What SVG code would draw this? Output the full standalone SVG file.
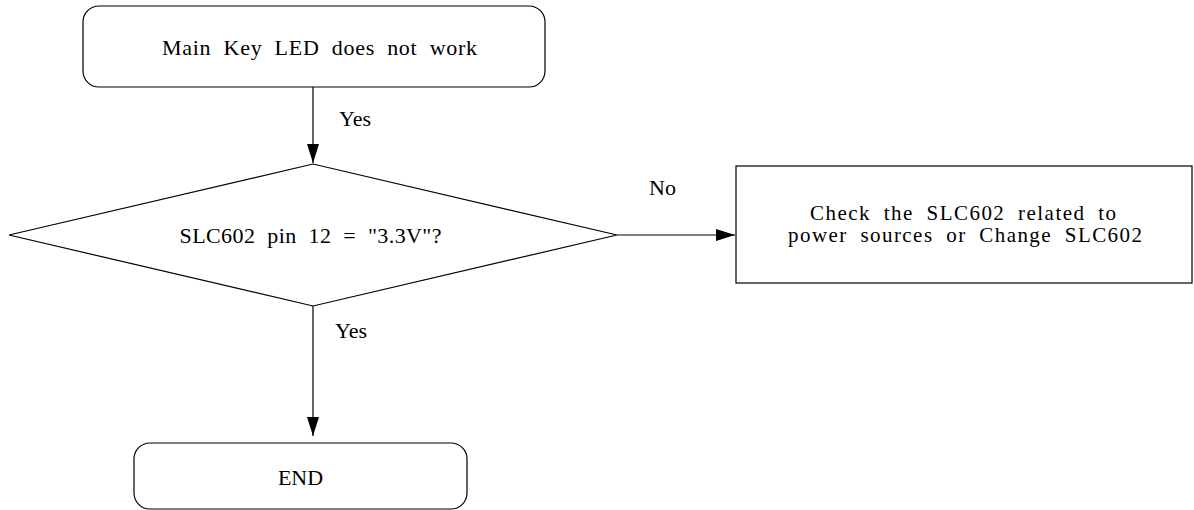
<svg xmlns="http://www.w3.org/2000/svg" width="1194" height="510" viewBox="0 0 1194 510">
<style>
  .shape { fill: #ffffff; stroke: #000000; stroke-width: 1.2; }
  .line { stroke: #000000; stroke-width: 1.2; fill: none; }
  text { font-family: "Liberation Serif", "Times New Roman", serif; font-size: 22px; fill: #000000; }
  .c { text-anchor: middle; word-spacing: 6px; }
  .s { font-size: 21px; }
</style>
<defs>
  <marker id="arrow" viewBox="0 0 19 12" refX="19" refY="6" markerWidth="19" markerHeight="12" markerUnits="userSpaceOnUse" orient="auto">
    <path d="M0,0 L19,6 L0,12 Z" fill="#000000"/>
  </marker>
</defs>
<rect width="1194" height="510" fill="#ffffff"/>

<g id="connectors">
  <line class="line" x1="313" y1="87" x2="313" y2="163" marker-end="url(#arrow)"/>
  <line class="line" x1="617" y1="235" x2="735" y2="235" marker-end="url(#arrow)"/>
  <line class="line" x1="313" y1="306" x2="313" y2="436" marker-end="url(#arrow)"/>
  <text x="339" y="126">Yes</text>
  <text x="649" y="195">No</text>
  <text x="335" y="338">Yes</text>
</g>

<g id="start">
  <rect class="shape" x="83" y="6" width="462" height="81" rx="16" ry="16"/>
  <text class="c" x="319.5" y="55" textLength="315">Main Key LED does not work</text>
</g>

<g id="decision">
  <polygon class="shape" points="9,235 313,164 617,235 313,306" stroke-width="1"/>
  <text class="c" x="310.5" y="243" textLength="262">SLC602 pin 12 = "3.3V"?</text>
</g>

<g id="action">
  <rect class="shape" x="736" y="166" width="456" height="117"/>
  <text class="c s" x="963" y="220" textLength="306">Check the SLC602 related to</text>
  <text class="c s" x="965" y="242" textLength="354">power sources or Change SLC602</text>
</g>

<g id="end">
  <rect class="shape" x="134" y="443" width="333" height="66" rx="16" ry="16"/>
  <text class="c" x="300.5" y="485">END</text>
</g>
</svg>
